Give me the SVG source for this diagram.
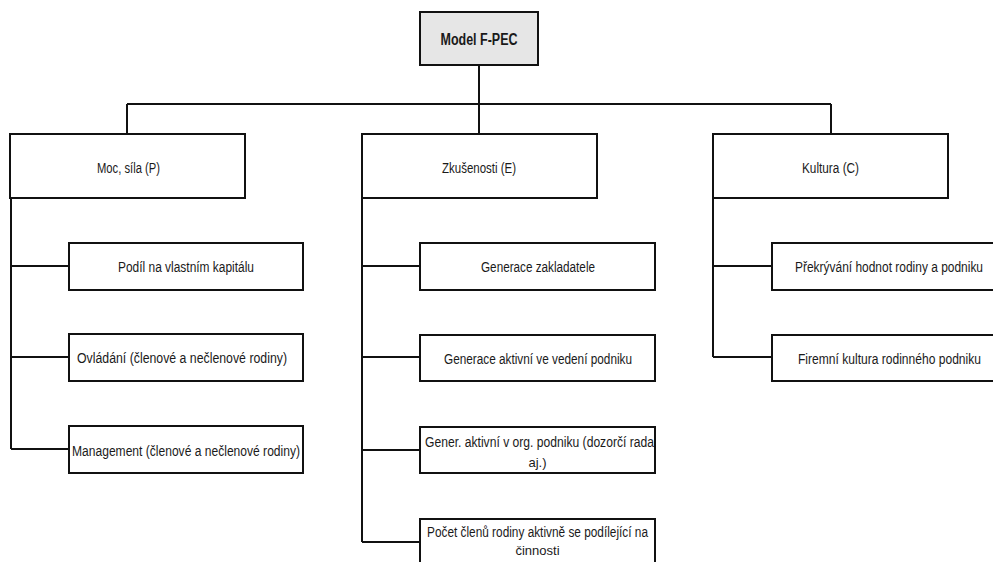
<svg xmlns="http://www.w3.org/2000/svg" width="993" height="562" viewBox="0 0 993 562">
<style>
.box{fill:#ffffff;stroke:#111111;stroke-width:2}
.root{fill:#e6e6e6;stroke:#111111;stroke-width:2}
.con{fill:none;stroke:#111111;stroke-width:2}
text{font-family:"Liberation Sans",Arial,sans-serif;font-size:14px;fill:#1a1a1a;text-anchor:middle}
.b{font-weight:bold;font-size:16px}
.s{font-size:13px}
</style>
<rect width="993" height="562" fill="#ffffff"/>
<g id="connectors">
<path class="con" d="M479 65V104M127 104H831M127 104V134M479 104V134M831 104V134"/>
<path class="con" d="M11 198V449M11 266H69M11 357H69M11 449H69"/>
<path class="con" d="M362 198V542M362 266H420M362 357H420M362 450H420M362 542H420"/>
<path class="con" d="M713 198V357M713 266H772M713 357H772"/>
</g>
<g id="n-root"><rect class="root" x="420" y="12" width="118" height="53"/><text class="b" x="479" y="45" textLength="77" lengthAdjust="spacingAndGlyphs">Model F-PEC</text></g>
<g id="n-p"><rect class="box" x="10" y="134" width="235" height="64"/><text x="128.5" y="173" textLength="63" lengthAdjust="spacingAndGlyphs">Moc, síla (P)</text></g>
<g id="n-e"><rect class="box" x="362" y="134" width="235" height="64"/><text x="479" y="173" textLength="74" lengthAdjust="spacingAndGlyphs">Zkušenosti (E)</text></g>
<g id="n-c"><rect class="box" x="713" y="134" width="235" height="64"/><text x="830.5" y="173" textLength="57" lengthAdjust="spacingAndGlyphs">Kultura (C)</text></g>
<g id="n-p1"><rect class="box" x="69" y="243" width="234" height="47"/><text x="186" y="272" textLength="136" lengthAdjust="spacingAndGlyphs">Podíl na vlastním kapitálu</text></g>
<g id="n-p2"><rect class="box" x="69" y="334" width="234" height="47"/><text x="182" y="363" textLength="210" lengthAdjust="spacingAndGlyphs">Ovládání (členové a nečlenové rodiny)</text></g>
<g id="n-p3"><rect class="box" x="69" y="426" width="234" height="47"/><text x="186" y="456" textLength="228" lengthAdjust="spacingAndGlyphs">Management (členové a nečlenové rodiny)</text></g>
<g id="n-e1"><rect class="box" x="420" y="243" width="235" height="47"/><text x="538" y="272" textLength="114" lengthAdjust="spacingAndGlyphs">Generace zakladatele</text></g>
<g id="n-e2"><rect class="box" x="420" y="335" width="235" height="46"/><text x="538" y="364" textLength="188" lengthAdjust="spacingAndGlyphs">Generace aktivní ve vedení podniku</text></g>
<g id="n-e3"><rect class="box" x="420" y="427" width="235" height="46"/><text x="539.5" y="447" textLength="229" lengthAdjust="spacingAndGlyphs">Gener. aktivní v org. podniku (dozorčí rada</text><text class="s" x="537.5" y="467">aj.)</text></g>
<g id="n-e4"><rect class="box" x="420" y="519" width="235" height="60"/><text x="537.5" y="537" textLength="221" lengthAdjust="spacingAndGlyphs">Počet členů rodiny aktivně se podílející na</text><text class="s" x="537.5" y="555">činnosti</text></g>
<g id="n-c1"><rect class="box" x="772" y="243" width="222" height="47"/><text x="889" y="272" textLength="188" lengthAdjust="spacingAndGlyphs">Překrývání hodnot rodiny a podniku</text></g>
<g id="n-c2"><rect class="box" x="772" y="335" width="222" height="46"/><text x="889.5" y="364" textLength="183" lengthAdjust="spacingAndGlyphs">Firemní kultura rodinného podniku</text></g>
</svg>
